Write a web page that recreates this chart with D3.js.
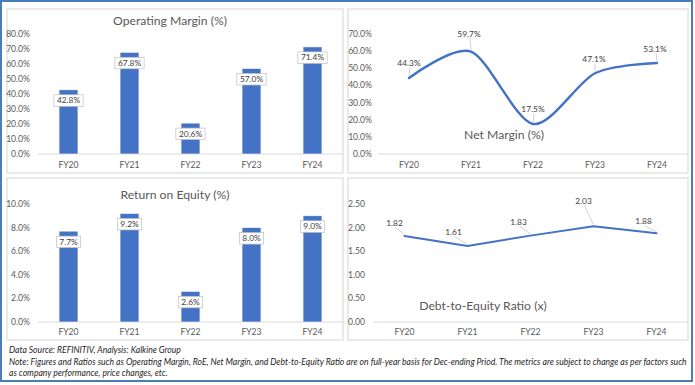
<!DOCTYPE html>
<html>
<head>
<meta charset="utf-8">
<script src="https://cdn.jsdelivr.net/npm/d3@7"></script>
<style>
  body { margin: 0; background: #fff; }
  svg { display: block; font-family: Lato, "Open Sans", sans-serif; }
</style>
</head>
<body>
<svg id="chart" width="695" height="385"></svg>
<script>
// data
const years = ["FY20", "FY21", "FY22", "FY23", "FY24"];
const operatingMargin = [42.8, 67.8, 20.6, 57.0, 71.4];
const netMargin = [44.3, 59.7, 17.5, 47.1, 53.1];
const returnOnEquity = [7.7, 9.2, 2.6, 8.0, 9.0];
const debtToEquity = [1.82, 1.61, 1.83, 2.03, 1.88];

const omTicks = [0, 10, 20, 30, 40, 50, 60, 70, 80];
const nmTicks = [0, 10, 20, 30, 40, 50, 60, 70];
const roeTicks = [0, 2, 4, 6, 8, 10];
const deTicks = [0, 0.5, 1, 1.5, 2, 2.5];

// label nudges for the line charts (pixels from the point)
const nmNudge = [[0, -15], [-2, -18], [0, -15], [-1, -14], [-2, -14]];
const deNudge = [[-10, -13], [-14, -14], [-12, -14], [-10, -25], [-13, -12]];

const blue = "#4472C4";
const tickColor = "#595959";
const svg = d3.select("#chart");

// outer frame
svg.append("rect").attr("x", 1).attr("y", 1).attr("width", 691).attr("height", 380)
    .attr("fill", "#fff").attr("stroke", "#4A7EBB").attr("stroke-width", 2);

// panel frames
[[7, 9, 336, 164], [348, 9, 340, 164], [7, 178, 336, 162], [348, 178, 340, 162]].forEach(p => {
    svg.append("rect").attr("x", p[0]).attr("y", p[1]).attr("width", p[2]).attr("height", p[3])
        .attr("fill", "#fff").attr("stroke", "#E3E3E3").attr("stroke-width", 1.5);
});

function axes(g, x, y, ticks, fmt, xr, yLabelX, labelY) {
    g.append("line").attr("x1", xr[0]).attr("x2", xr[1])
        .attr("y1", y(0)).attr("y2", y(0)).attr("stroke", "#D9D9D9").attr("stroke-width", 1);
    g.selectAll(".yt").data(ticks).join("text")
        .attr("x", yLabelX).attr("y", d => y(d) + 3)
        .attr("text-anchor", "end").attr("font-size", 8.6).attr("fill", tickColor)
        .text(fmt);
    g.selectAll(".xt").data(years).join("text")
        .attr("x", d => x(d) + (x.bandwidth ? x.bandwidth() / 2 : 0)).attr("y", labelY)
        .attr("text-anchor", "middle").attr("font-size", 8.6).attr("fill", tickColor)
        .text(d => d);
}

function barPanel(values, ticks, fmt, labelFmt, xr, yr, yLabelX, labelY, title, titlePos) {
    const g = svg.append("g");
    const x = d3.scaleBand().domain(years).range(xr).paddingInner(0.69).paddingOuter(0.345);
    const y = d3.scaleLinear().domain([0, d3.max(ticks)]).range(yr);
    axes(g, x, y, ticks, fmt, xr, yLabelX, labelY);
    g.selectAll(".bar").data(values).join("rect")
        .attr("x", (d, i) => x(years[i])).attr("width", x.bandwidth())
        .attr("y", d => y(d)).attr("height", d => y(0) - y(d))
        .attr("fill", blue).attr("stroke", "#fff").attr("stroke-width", 0.6);
    const lab = g.selectAll(".lab").data(values).join("g")
        .attr("transform", (d, i) => `translate(${x(years[i]) + x.bandwidth() / 2},${y(d) + 10.5})`);
    lab.append("text").attr("text-anchor", "middle").attr("y", 3)
        .attr("font-size", 8.4).attr("fill", "#404040").text(labelFmt);
    lab.each(function () {
        const t = d3.select(this).select("text");
        const w = t.node().getComputedTextLength() + 6;
        d3.select(this).insert("rect", "text").attr("x", -w / 2).attr("y", -5.5)
            .attr("width", w).attr("height", 11.5).attr("fill", "#fff")
            .attr("stroke", "#BFBFBF").attr("stroke-width", 0.7);
    });
    g.append("text").attr("x", titlePos[0]).attr("y", titlePos[1])
        .attr("text-anchor", "middle").attr("font-size", 12.2).attr("fill", tickColor).text(title);
}

function linePanel(values, ticks, fmt, labelFmt, nudge, curve, xr, yr, yLabelX, labelY, title, titlePos, width) {
    const g = svg.append("g");
    const x = d3.scalePoint().domain(years).range(xr).padding(0.5);
    const y = d3.scaleLinear().domain([0, d3.max(ticks)]).range(yr);
    axes(g, x, y, ticks, fmt, xr, yLabelX, labelY);
    g.append("text").attr("x", titlePos[0]).attr("y", titlePos[1])
        .attr("text-anchor", "middle").attr("font-size", 12.2).attr("fill", tickColor).text(title);
    const pts = values.map((v, i) => [x(years[i]), y(v)]);
    g.append("path").attr("d", d3.line().curve(curve)(pts))
        .attr("fill", "none").attr("stroke", blue).attr("stroke-width", width)
        .attr("stroke-linecap", "round").attr("stroke-linejoin", "round");
    pts.forEach((p, i) => {
        const lx = p[0] + nudge[i][0], ly = p[1] + nudge[i][1];
        g.append("line").attr("x1", lx + 1).attr("y1", ly + 4.5).attr("x2", p[0]).attr("y2", p[1] - 1.5)
            .attr("stroke", "#BFBFBF").attr("stroke-width", 0.7);
        g.append("text").attr("x", lx).attr("y", ly + 3).attr("text-anchor", "middle")
            .attr("font-size", 8.4).attr("fill", "#404040").text(labelFmt(values[i]));
    });
}

const pct = d => d.toFixed(1) + "%";

barPanel(operatingMargin, omTicks, pct, pct, [38, 343], [154, 34], 30, 168,
    "Operating Margin (%)", [170, 25]);
linePanel(netMargin, nmTicks, pct, pct, nmNudge, d3.curveCardinal.tension(0.15),
    [378, 688], [154, 34], 372, 168, "Net Margin (%)", [504, 139], 2.4);
barPanel(returnOnEquity, roeTicks, pct, pct, [38, 343], [322, 204], 30, 335,
    "Return on Equity (%)", [175, 199]);
linePanel(debtToEquity, deTicks, d => d.toFixed(2), d => d.toFixed(2), deNudge, d3.curveLinear,
    [373, 688], [322, 204], 365, 335, "Debt-to-Equity Ratio (x)", [483, 310], 2);

// footer notes
const notes = [
    "Data Source: REFINITIV, Analysis: Kalkine Group",
    "Note: Figures and Ratios such as Operating Margin, RoE, Net Margin, and Debt-to-Equity Ratio are on full-year basis for Dec-ending Priod. The metrics are subject to change as per factors such",
    "as company performance, price changes, etc."
];
svg.selectAll(".note").data(notes).join("text")
    .attr("x", 9).attr("y", (d, i) => 353 + i * 11.7)
    .attr("font-size", 8.6).attr("font-style", "italic").attr("fill", "#262626")
    .text(d => d);
</script>
</body>
</html>
